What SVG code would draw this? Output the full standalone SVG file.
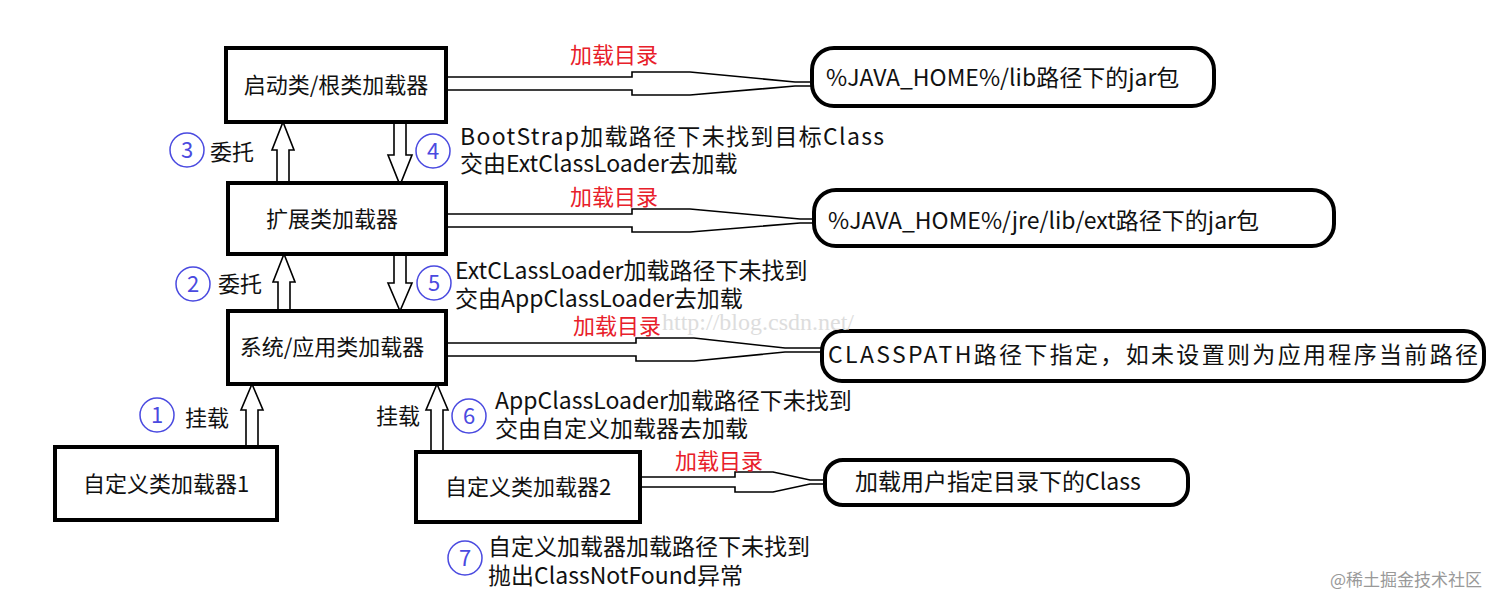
<svg xmlns="http://www.w3.org/2000/svg" width="1512" height="609" viewBox="0 0 1512 609">
<style>
text{font-family:"Noto Sans CJK SC","Noto Sans",sans-serif;font-size:22px;fill:#111}
.d{font-size:23px}
.box{fill:#fff;stroke:#000;stroke-width:4}
.oval{fill:#fff;stroke:#000;stroke-width:4}
.arr{fill:#fff;stroke:#000;stroke-width:1.6}
.red{fill:#e8202a}
.num{fill:none;stroke:#4a4ae0;stroke-width:1.5}
.nt{fill:#4a4ae0;font-size:22px;text-anchor:middle}
.c{text-anchor:middle}
</style>
<rect width="1512" height="609" fill="#fff"/>
<g id="connectors">
<path class="arr" d="M446,77 H632 V72 H690 L795,82 H812 V86 H795 L690,95 H632 V90 H446 Z"/>
<path class="arr" d="M446,214 H632 V209 H690 L800,219 H814 V223 H800 L690,232 H632 V227 H446 Z"/>
<path class="arr" d="M446,343 H636 V338 H694 L785,348 H824 V352 H785 L694,361 H636 V356 H446 Z"/>
<path class="arr" d="M640,477 H735 V472 H773 L810,480 H827 V484 H810 L773,492 H735 V487 H640 Z"/>
<path class="arr" d="M277,183 V150 H272 L283,122 L294,150 H289 V183 Z"/>
<path class="arr" d="M394,122 V155 H388 L400,185 L412,155 H406 V122 Z"/>
<path class="arr" d="M278,311 V282 H273 L284,254 L295,282 H290 V311 Z"/>
<path class="arr" d="M394,254 V283 H388 L400,311 L412,283 H406 V254 Z"/>
<path class="arr" d="M246,447 V410 H241 L252,384 L263,410 H258 V447 Z"/>
<path class="arr" d="M431,452 V410 H426 L437,384 L448,410 H443 V452 Z"/>
</g>
<g id="n1"><rect class="box" x="226" y="48" width="220" height="74"/><text class="c" x="336" y="93">启动类/根类加载器</text></g>
<g id="n2"><rect class="box" x="228" y="183" width="218" height="71"/><text class="c" x="332" y="227">扩展类加载器</text></g>
<g id="n3"><rect class="box" x="228" y="311" width="218" height="73"/><text class="c" x="332" y="355">系统/应用类加载器</text></g>
<g id="n4"><rect class="box" x="55" y="447" width="222" height="73"/><text class="c" x="166" y="492">自定义类加载器1</text></g>
<g id="n5"><rect class="box" x="416" y="452" width="224" height="70"/><text class="c" x="528" y="495">自定义类加载器2</text></g>
<g id="o1"><rect class="oval" x="812" y="48" width="402" height="58" rx="22"/><text class="d" x="826" y="86">%JAVA_HOME%/lib路径下的jar包</text></g>
<g id="o2"><rect class="oval" x="814" y="190" width="520" height="56" rx="22"/><text class="d" x="828" y="229">%JAVA_HOME%/jre/lib/ext路径下的jar包</text></g>
<g id="o3"><rect class="oval" x="822" y="331" width="662" height="50" rx="20"/><text class="d" x="828" y="363" textLength="650">CLASSPATH路径下指定，如未设置则为应用程序当前路径</text></g>
<g id="o4"><rect class="oval" x="825" y="460" width="363" height="45" rx="18"/><text class="d" x="855" y="490">加载用户指定目录下的Class</text></g>
<g id="labels">
<text class="red" x="570" y="63">加载目录</text>
<text class="red" x="570" y="205">加载目录</text>
<text class="red" x="573" y="334">加载目录</text>
<text class="red" x="675" y="469">加载目录</text>
<circle class="num" cx="187" cy="150" r="17"/><text class="nt" x="187" y="158">3</text><text x="210" y="160">委托</text>
<circle class="num" cx="433" cy="151" r="17"/><text class="nt" x="433" y="159">4</text>
<text class="d" x="460" y="145" textLength="424">BootStrap加载路径下未找到目标Class</text><text class="d" x="460" y="172">交由ExtClassLoader去加载</text>
<circle class="num" cx="193" cy="284" r="17"/><text class="nt" x="193" y="292">2</text><text x="218" y="292">委托</text>
<circle class="num" cx="434" cy="283" r="17"/><text class="nt" x="434" y="291">5</text>
<text class="d" x="455" y="279">ExtCLassLoader加载路径下未找到</text><text class="d" x="455" y="307">交由AppClassLoader去加载</text>
<circle class="num" cx="157" cy="415" r="17"/><text class="nt" x="157" y="423">1</text><text x="185" y="426">挂载</text>
<text x="376" y="424">挂载</text>
<circle class="num" cx="469" cy="416" r="17"/><text class="nt" x="469" y="424">6</text>
<text class="d" x="495" y="409">AppClassLoader加载路径下未找到</text><text class="d" x="495" y="437">交由自定义加载器去加载</text>
<circle class="num" cx="465" cy="558" r="17"/><text class="nt" x="465" y="566">7</text>
<text class="d" x="488" y="555">自定义加载器加载路径下未找到</text><text class="d" x="488" y="584">抛出ClassNotFound异常</text>
<text x="662" y="330" style="font-family:'Liberation Serif',serif;font-size:24px;fill:#ddd">http://blog.csdn.net/</text>
<text x="1330" y="586" style="font-size:17px;fill:#999">@稀土掘金技术社区</text>
</g>
</svg>
